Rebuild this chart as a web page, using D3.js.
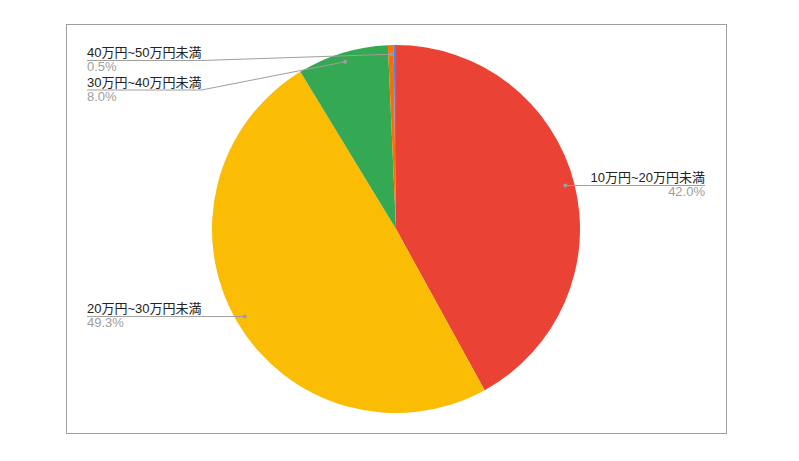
<!DOCTYPE html>
<html>
<head>
<meta charset="utf-8">
<script src="https://d3js.org/d3.v7.min.js"></script>
<style>
  body { margin: 0; background: #fff; }
  text { font-family: Arial, "Liberation Sans", "Noto Sans CJK JP", sans-serif; font-size: 13px; }
</style>
</head>
<body>
<svg width="799" height="461"></svg>
<script>
// chart data, clockwise from 12 o'clock
const categories = ["10万円~20万円未満", "20万円~30万円未満", "30万円~40万円未満", "40万円~50万円未満", null];
const shares = [42.0, 49.3, 8.0, 0.5, 0.2];
const shareLabels = ["42.0%", "49.3%", "8.0%", "0.5%", null];
const colors = ["#ea4335", "#fbbc04", "#34a853", "#ff6d01", "#4285f4"];

const svg = d3.select("svg");
const width = +svg.attr("width");
const height = +svg.attr("height");

// chart frame
svg.append("rect")
  .attr("x", 66.5).attr("y", 24.5)
  .attr("width", 660).attr("height", 409)
  .attr("fill", "#fff")
  .attr("stroke", "#9e9e9e")
  .attr("stroke-width", 1);

const cx = 396, cy = 229, radius = 184;
const g = svg.append("g").attr("transform", `translate(${cx},${cy})`);

const data = categories.map((c, i) => ({ name: c, value: shares[i], pct: shareLabels[i], color: colors[i] }));

const pie = d3.pie().value(d => d.value).sort(null);
const arcs = pie(data);

const arc = d3.arc().innerRadius(0).outerRadius(radius);
const dotArc = d3.arc().innerRadius(radius * 0.95).outerRadius(radius * 0.95);

g.selectAll("path.slice").data(arcs).join("path")
  .attr("class", "slice")
  .attr("d", arc)
  .attr("fill", d => d.data.color);

// labels
const leftX = 87, rightX = 705;
const gap = 29.5, topLimit = 60.5 - cy;

let labels = arcs.filter(d => d.data.name).map(d => {
  const c = dotArc.centroid(d);
  return { d: d, dot: c, right: c[0] > 0, y: c[1] };
});

// push left labels apart from top down
let leftSide = labels.filter(l => !l.right).sort((a, b) => a.dot[1] - b.dot[1]);
let prev = -Infinity;
leftSide.forEach(l => {
  l.y = Math.max(l.dot[1], prev + gap, topLimit);
  prev = l.y;
});

const lg = g.append("g");
labels.forEach(l => {
  const x = (l.right ? rightX : leftX) - cx;
  const name = lg.append("text")
    .attr("x", x).attr("y", l.y - 3.5)
    .attr("text-anchor", l.right ? "end" : "start")
    .attr("fill", "#222")
    .text(l.d.data.name);
  lg.append("text")
    .attr("x", x).attr("y", l.y + 10.5)
    .attr("text-anchor", l.right ? "end" : "start")
    .attr("fill", "#9e9e9e")
    .text(l.d.data.pct);
  const w = name.node().getComputedTextLength();
  const inner = l.right ? x - w : x + w;
  lg.append("path")
    .attr("d", d3.line()([l.dot, [inner, l.y], [x, l.y]]))
    .attr("fill", "none")
    .attr("stroke", "#9e9e9e")
    .attr("stroke-width", 1);
  lg.append("circle")
    .attr("cx", l.dot[0]).attr("cy", l.dot[1])
    .attr("r", 2)
    .attr("fill", "#9e9e9e");
});
</script>
</body>
</html>
